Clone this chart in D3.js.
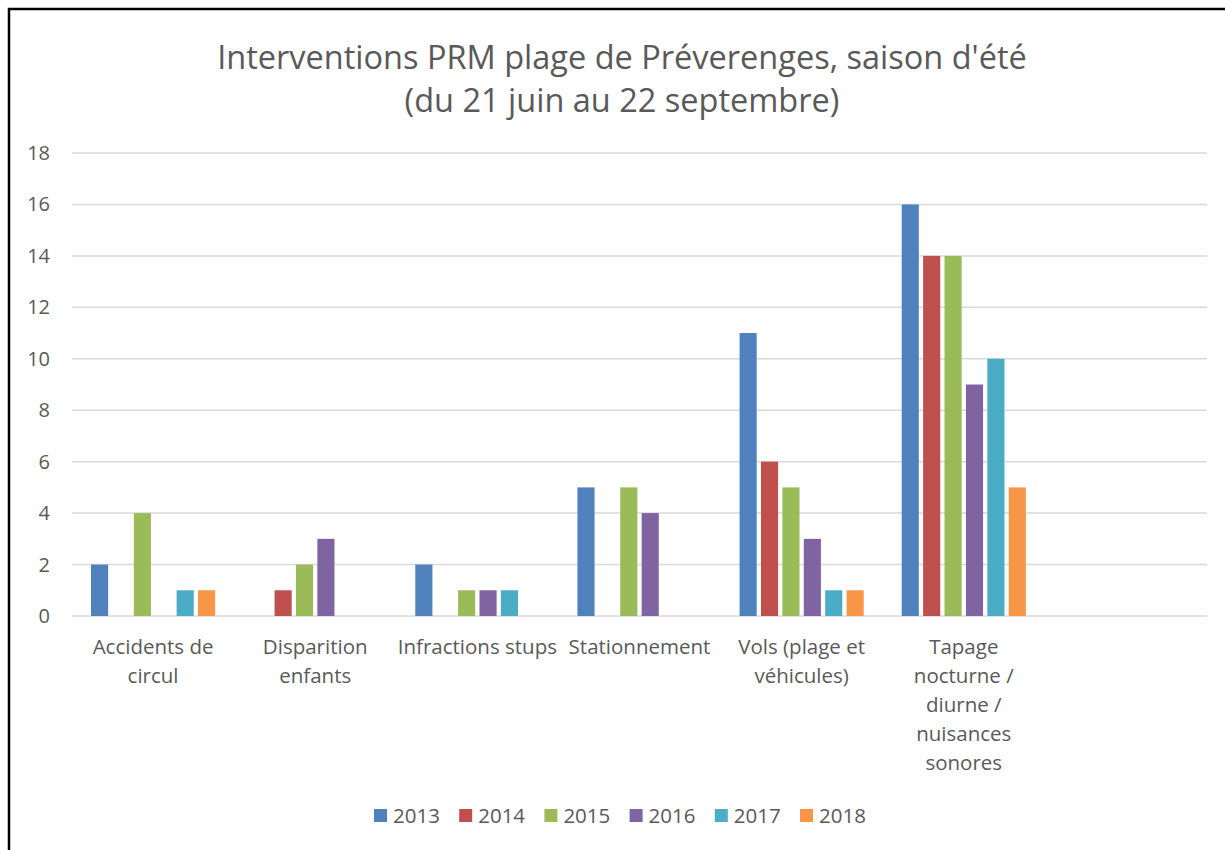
<!DOCTYPE html>
<html>
<head>
<meta charset="utf-8">
<script src="https://cdn.jsdelivr.net/npm/d3@7"></script>
<style>
  body { margin: 0; background: #fff; }
  text { font-family: "Open Sans", sans-serif; fill: #595959; }
</style>
</head>
<body>
<div id="chart"></div>
<script>
// categories (one label line per entry), last slot is empty like in the Excel original
const categories = [
    ["Accidents de", "circul"],
    ["Disparition", "enfants"],
    ["Infractions stups"],
    ["Stationnement"],
    ["Vols (plage et", "véhicules)"],
    ["Tapage", "nocturne /", "diurne /", "nuisances", "sonores"],
    [""]
];
const years = ["2013", "2014", "2015", "2016", "2017", "2018"];
const colors = ["#4F81BD", "#C0504D", "#9BBB59", "#8064A2", "#4BACC6", "#F79646"];

const v2013 = [2, 0, 2, 5, 11, 16, null];
const v2014 = [0, 1, 0, 0, 6, 14, null];
const v2015 = [4, 2, 1, 5, 5, 14, null];
const v2016 = [0, 3, 1, 4, 3, 9, null];
const v2017 = [1, 0, 1, 0, 1, 10, null];
const v2018 = [1, 0, 0, 0, 1, 5, null];
const series = [v2013, v2014, v2015, v2016, v2017, v2018];

const yTicks = [0, 2, 4, 6, 8, 10, 12, 14, 16, 18];

const W = 1225, H = 850;
const margin = {top: 153, right: 18, bottom: 234, left: 72};

const svg = d3.select("#chart").append("svg")
    .attr("width", W)
    .attr("height", H);

// frame (only left and top edges are inside the picture)
svg.append("rect")
    .attr("x", 9).attr("y", 9)
    .attr("width", W + 20).attr("height", H + 20)
    .attr("fill", "none")
    .attr("stroke", "#000")
    .attr("stroke-width", 2.5);

// title
const title = svg.append("text")
    .attr("text-anchor", "middle")
    .attr("font-size", 32.5);
title.append("tspan").attr("x", 622).attr("y", 69).text("Interventions PRM plage de Préverenges, saison d'été");
title.append("tspan").attr("x", 622).attr("y", 112).text("(du 21 juin au 22 septembre)");

const idx = d3.range(categories.length);

const x0 = d3.scaleBand()
    .domain(idx)
    .range([margin.left, W - margin.right]);

const x1 = d3.scaleBand()
    .domain(years)
    .range([19, x0.bandwidth() - 19])
    .paddingInner(0.2);

const y = d3.scaleLinear()
    .domain([0, 18])
    .range([H - margin.bottom, margin.top]);

// gridlines
svg.append("g")
    .selectAll("line")
    .data(yTicks)
    .join("line")
    .attr("x1", margin.left)
    .attr("x2", W - margin.right)
    .attr("y1", d => y(d))
    .attr("y2", d => y(d))
    .attr("stroke", "#d9d9d9")
    .attr("stroke-width", 1.5);

// y tick labels
svg.append("g")
    .selectAll("text")
    .data(yTicks)
    .join("text")
    .attr("x", 50)
    .attr("y", d => y(d))
    .attr("dy", "0.35em")
    .attr("text-anchor", "end")
    .attr("font-size", 20)
    .text(d => d);

// bars
const groups = svg.append("g")
    .selectAll("g")
    .data(idx)
    .join("g")
    .attr("transform", i => `translate(${x0(i)},0)`);

groups.selectAll("rect")
    .data(i => years.map((yr, k) => ({yr: yr, k: k, v: series[k][i]})).filter(d => d.v))
    .join("rect")
    .attr("x", d => x1(d.yr))
    .attr("width", x1.bandwidth())
    .attr("y", d => y(d.v))
    .attr("height", d => y(0) - y(d.v))
    .attr("fill", d => colors[d.k]);

// category labels
const catLabels = svg.append("g")
    .selectAll("text")
    .data(idx)
    .join("text")
    .attr("text-anchor", "middle")
    .attr("font-size", 20.5);

catLabels.selectAll("tspan")
    .data(i => categories[i].map(line => ({i: i, line: line})))
    .join("tspan")
    .attr("x", d => x0(d.i) + x0.bandwidth() / 2)
    .attr("y", (d, j) => 654 + j * 29)
    .text(d => d.line);

// legend
const legend = svg.append("g")
    .selectAll("g")
    .data(years)
    .join("g")
    .attr("transform", (d, k) => `translate(${374 + k * 85.2},809)`);

legend.append("rect")
    .attr("width", 13)
    .attr("height", 13)
    .attr("fill", (d, k) => colors[k]);

legend.append("text")
    .attr("x", 19)
    .attr("y", 7)
    .attr("dy", "0.35em")
    .attr("font-size", 20.5)
    .text(d => d);
</script>
</body>
</html>
